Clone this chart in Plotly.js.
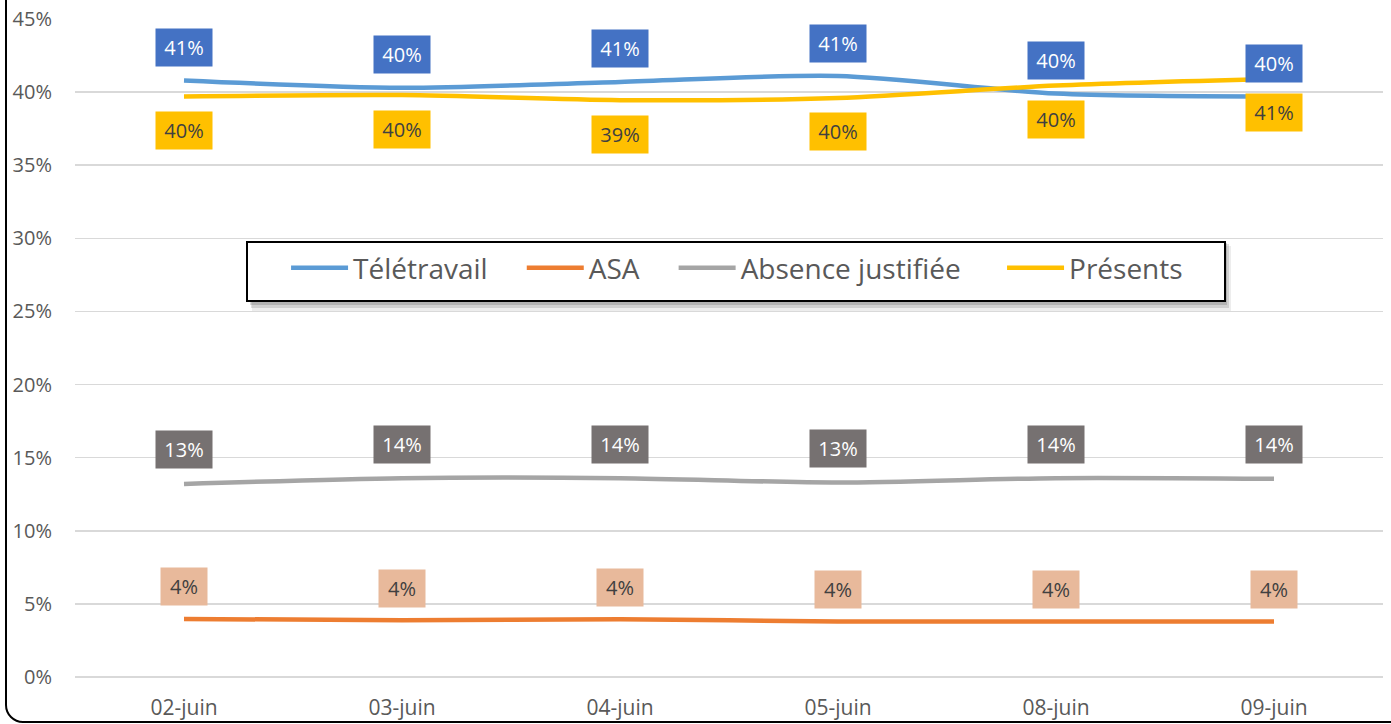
<!DOCTYPE html>
<html><head><meta charset="utf-8">
<script src="https://cdn.plot.ly/plotly-3.0.1.min.js"></script>
<style>
html,body{margin:0;padding:0;background:#fff;overflow:hidden}
#wrap{position:relative;width:1391px;height:724px;overflow:hidden}
#chart{position:absolute;left:0;top:0;width:1391px;height:724px}
#frame{position:absolute;left:5px;top:-40px;width:1430px;height:763px;border:2px solid #000;border-radius:18px;box-sizing:border-box;pointer-events:none}
</style></head>
<body><div id="wrap"><div id="chart"></div><div id="frame"></div></div>
<script>
const categories = ["02-juin","03-juin","04-juin","05-juin","08-juin","09-juin"];
const teletravail = [40.8, 40.3, 40.7, 41.1, 39.9, 39.7];
const asa = [3.97, 3.88, 3.95, 3.8, 3.8, 3.8];
const absence = [13.2, 13.6, 13.6, 13.3, 13.6, 13.55];
const presents = [39.7, 39.8, 39.45, 39.6, 40.45, 40.9];
const seriesNames = ["Télétravail","ASA","Absence justifiée","Présents"];
const yTicks = [0,5,10,15,20,25,30,35,40,45];

const NB = "\u00a0";
const pad = n => NB.repeat(n);
const legendPad = [4, 4, 5, 5];

const series = [
  {name: seriesNames[0], y: teletravail, color: "#5B9BD5", box: "#4472C4", txt: "#FFFFFF", shift: 33, w: 48},
  {name: seriesNames[1], y: asa, color: "#ED7D31", box: "#E8B99B", txt: "#404040", shift: 32, w: 38},
  {name: seriesNames[2], y: absence, color: "#A5A5A5", box: "#767171", txt: "#FFFFFF", shift: 34, w: 48},
  {name: seriesNames[3], y: presents, color: "#FFC000", box: "#FFC000", txt: "#404040", shift: -34, w: 48}
];

const traces = series.map((s, k) => ({
  type: "scatter", mode: "lines", name: s.name + pad(legendPad[k]), x: categories, y: s.y,
  line: {color: s.color, width: 4.5, shape: "spline", smoothing: 0.8},
  hoverinfo: "skip"
}));

const annotations = [];
series.forEach(s => {
  s.y.forEach((v, i) => {
    annotations.push({
      x: categories[i], y: v, xref: "x", yref: "y",
      text: Math.round(v) + "%", showarrow: false,
      yshift: s.shift, bgcolor: s.box, borderpad: 4,
      width: s.w, height: 29,
      font: {family: "Open Sans, sans-serif", size: 20, color: s.txt}
    });
  });
});

const px = v => (v - 75) / 1308;
const py = v => (677 - v) / 658;

const layout = {
  width: 1391, height: 724,
  margin: {l: 75, r: 8, t: 19, b: 47},
  paper_bgcolor: "#fff", plot_bgcolor: "#fff",
  font: {family: "Open Sans, sans-serif", color: "#595959"},
  showlegend: true,
  legend: {
    orientation: "h", x: px(736), xanchor: "center", y: py(241), yanchor: "top",
    bgcolor: "#fff", bordercolor: "#000", borderwidth: 2,
    font: {size: 28, color: "#595959", family: "Open Sans, sans-serif"},
    itemwidth: 57, traceorder: "normal",
    title: {text: pad(3), side: "left", font: {size: 36}}
  },
  xaxis: {
    type: "category", range: [-0.5, 5.5], showgrid: false, zeroline: false, showline: false,
    ticks: "outside", ticklen: 12, tickcolor: "rgba(0,0,0,0)",
    tickfont: {size: 21, color: "#595959"}, fixedrange: true
  },
  yaxis: {
    range: [0, 45], tickvals: yTicks, ticktext: yTicks.map(t => t + "%"),
    showgrid: true, gridcolor: "#D9D9D9", gridwidth: 1.5,
    zeroline: true, zerolinecolor: "#D9D9D9", zerolinewidth: 1.5,
    showline: false, ticklabelstandoff: 22,
    tickfont: {size: 20, color: "#595959"}, fixedrange: true
  },
  annotations: annotations,
  shapes: [
    {type: "rect", xref: "paper", yref: "paper", layer: "below",
     x0: px(252), x1: px(1231), y0: py(311), y1: py(246),
     fillcolor: "rgba(0,0,0,0.07)", line: {width: 0}},
    {type: "rect", xref: "paper", yref: "paper", layer: "below",
     x0: px(251), x1: px(1229), y0: py(308), y1: py(244),
     fillcolor: "rgba(0,0,0,0.12)", line: {width: 0}},
    {type: "rect", xref: "paper", yref: "paper", layer: "below",
     x0: px(250), x1: px(1227), y0: py(305), y1: py(243),
     fillcolor: "rgba(0,0,0,0.14)", line: {width: 0}}
  ]
};

Plotly.newPlot("chart", traces, layout, {displayModeBar: false, staticPlot: true});
</script></body></html>
